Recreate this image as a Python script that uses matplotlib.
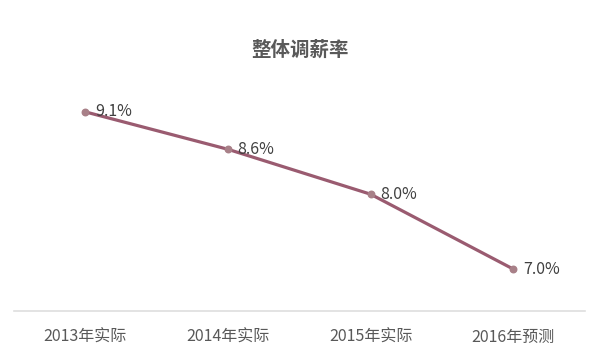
import matplotlib
matplotlib.use("Agg")
import matplotlib.pyplot as plt

plt.rcParams['font.family'] = ['Noto Sans CJK SC', 'DejaVu Sans']

# data
categories = ["2013年实际", "2014年实际", "2015年实际", "2016年预测"]
rates = [9.1, 8.6, 8.0, 7.0]
labels = ["9.1%", "8.6%", "8.0%", "7.0%"]

fig = plt.figure(figsize=(6, 3.57), dpi=100)
ax = fig.add_axes([0.0233, 0.1289, 0.951, 0.759])

x = list(range(len(categories)))
ax.plot(x, rates, color="#9a5b70", lw=2.3, solid_capstyle="round", zorder=2)
ax.scatter(x, rates, s=22, color="#a88088", zorder=3)

for xi, yi, t in zip(x, rates, labels):
    ax.annotate(t, (xi, yi), xytext=(7, 0), textcoords="offset points",
                ha="left", va="center", fontsize=11.5, color="#404040")

ax.set_xlim(-0.5, 3.5)
ax.set_ylim(6.44, 10.06)
ax.set_xticks(x)
ax.set_xticklabels(categories, fontsize=11.5, color="#595959")
ax.tick_params(axis="x", length=0, pad=13)
ax.set_yticks([])

for s in ["top", "right", "left"]:
    ax.spines[s].set_visible(False)
ax.spines["bottom"].set_color("#dedede")
ax.spines["bottom"].set_linewidth(1.2)

fig.text(0.5, 1 - 50 / 357, "整体调薪率", ha="center", va="center",
         fontsize=14, fontweight="bold", color="#595959")

fig.savefig("out.png", dpi=100)
